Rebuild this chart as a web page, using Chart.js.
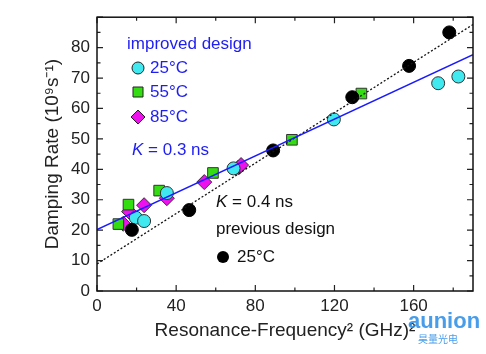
<!DOCTYPE html>
<html lang="en">
<head>
<meta charset="UTF-8">
<title>Damping Rate vs Resonance Frequency</title>
<script src="https://cdn.jsdelivr.net/npm/chart.js"></script>
<style>
  html, body { margin: 0; padding: 0; background: #fff; }
  #wrap { width: 486px; height: 354px; }
</style>
</head>
<body>
<div id="wrap"><canvas id="myChart" width="486" height="354"></canvas></div>
<script>
// improved design, 25 / 55 / 85 °C  (x = f_r^2 in GHz^2, y = damping rate in 1e9/s)
const cyan25 = [[19.6, 24.1], [23.8, 23.0], [35.3, 32.2], [69.0, 40.3], [119.7, 56.4], [172.4, 68.3], [182.6, 70.5]];
const green55 = [[10.8, 22.0], [15.9, 28.4], [31.4, 33.0], [58.6, 38.8], [98.5, 49.7], [133.6, 64.9]];
const magenta85 = [[13.3, 22.1], [16.2, 26.1], [23.8, 28.2], [35.3, 30.5], [54.2, 35.8], [71.5, 40.6], [72.8, 41.4]];
// previous design, 25 °C
const black25 = [[17.6, 20.1], [46.6, 26.6], [89.0, 46.2], [129.0, 63.7], [157.7, 74.0], [178.0, 85.0]];
// fit lines (end points)
const fitImproved = [[0, 20.2], [190, 77.7]];
const fitPrevious = [[0, 8.9], [190, 87.6]];

const xTicks = [0, 40, 80, 120, 160];
const yTicks = [0, 10, 20, 30, 40, 50, 60, 70, 80];

const toPts = a => a.map(p => ({ x: p[0], y: p[1] }));
const FONT = "'Liberation Sans', Arial, sans-serif";
const BLUE = '#1e1ef0';

const tickPlugin = {
  id: 'innerTicks',
  afterDraw(chart) {
    const { ctx, chartArea: a, scales } = chart;
    const xs = scales.x, ys = scales.y;
    ctx.save();
    ctx.strokeStyle = '#222';
    ctx.lineWidth = 1.2;
    ctx.beginPath();
    for (let v = 0; v <= 190; v += 20) {
      const px = xs.getPixelForValue(v);
      const len = v % 40 === 0 ? 6 : 3.5;
      ctx.moveTo(px, a.bottom); ctx.lineTo(px, a.bottom - len);
      ctx.moveTo(px, a.top); ctx.lineTo(px, a.top + len);
    }
    for (let v = 0; v <= 90; v += 5) {
      const py = ys.getPixelForValue(v);
      const len = v % 10 === 0 ? 6 : 3.5;
      ctx.moveTo(a.left, py); ctx.lineTo(a.left + len, py);
      ctx.moveTo(a.right, py); ctx.lineTo(a.right - len, py);
    }
    ctx.stroke();
    ctx.lineWidth = 1.5;
    ctx.strokeStyle = '#111';
    ctx.strokeRect(a.left, a.top, a.right - a.left, a.bottom - a.top);
    ctx.restore();
  }
};

function marker(ctx, type, x, y, fill) {
  ctx.save();
  ctx.fillStyle = fill;
  ctx.strokeStyle = '#222';
  ctx.lineWidth = 1;
  ctx.beginPath();
  if (type === 'circle') {
    ctx.arc(x, y, 6, 0, Math.PI * 2);
  } else if (type === 'rect') {
    ctx.rect(x - 5, y - 5, 10, 10);
  } else if (type === 'diamond') {
    ctx.moveTo(x, y - 7); ctx.lineTo(x + 7, y); ctx.lineTo(x, y + 7); ctx.lineTo(x - 7, y); ctx.closePath();
  }
  ctx.fill();
  if (fill !== '#000') ctx.stroke();
  ctx.restore();
}

function kText(ctx, x, y, rest) {
  ctx.font = 'italic 17px ' + FONT;
  ctx.fillText('K', x, y);
  const w = ctx.measureText('K').width;
  ctx.font = '17px ' + FONT;
  ctx.fillText(rest, x + w, y);
}

const notePlugin = {
  id: 'notes',
  afterDraw(chart) {
    const { ctx } = chart;
    ctx.save();
    ctx.textBaseline = 'middle';
    ctx.font = '17px ' + FONT;
    ctx.fillStyle = BLUE;
    ctx.fillText('improved design', 127, 44);
    marker(ctx, 'circle', 138, 68, '#40e8f0');
    ctx.fillStyle = BLUE;
    ctx.fillText('25°C', 150, 68);
    marker(ctx, 'rect', 138, 92, '#33dd11');
    ctx.fillStyle = BLUE;
    ctx.fillText('55°C', 150, 92);
    marker(ctx, 'diamond', 138, 117, '#ee11ee');
    ctx.fillStyle = BLUE;
    ctx.fillText('85°C', 150, 117);
    kText(ctx, 132, 150, ' = 0.3 ns');

    ctx.fillStyle = '#111';
    kText(ctx, 216, 202, ' = 0.4 ns');
    ctx.fillText('previous design', 216, 229);
    marker(ctx, 'circle', 223, 257, '#000');
    ctx.fillStyle = '#111';
    ctx.fillText('25°C', 237, 257);

    // watermark
    ctx.fillStyle = 'rgba(40,140,230,0.85)';
    ctx.font = 'bold 22px ' + FONT;
    ctx.fillText('aunion', 408, 322);
    ctx.font = '10px "Noto Sans CJK SC", sans-serif';
    ctx.fillText('昊量光电', 418, 339);
    ctx.restore();
  }
};

const ctx = document.getElementById('myChart').getContext('2d');
new Chart(ctx, {
  type: 'scatter',
  data: {
    datasets: [
      { label: 'fit improved', type: 'line', data: toPts(fitImproved), borderColor: '#1a1aff', borderWidth: 1.5, pointRadius: 0, fill: false },
      { label: 'fit previous', type: 'line', data: toPts(fitPrevious), borderColor: '#111', borderWidth: 1.3, borderDash: [2, 2], pointRadius: 0, fill: false },
      { label: 'previous 25°C', data: toPts(black25), pointStyle: 'circle', pointRadius: 6.5, backgroundColor: '#000', borderColor: '#000', borderWidth: 1 },
      { label: '25°C', data: toPts(cyan25), pointStyle: 'circle', pointRadius: 6.5, backgroundColor: '#40e8f0', borderColor: '#333', borderWidth: 1 },
      { label: '55°C', data: toPts(green55), pointStyle: 'rect', pointRadius: 7.5, backgroundColor: '#33dd11', borderColor: '#333', borderWidth: 1 },
      { label: '85°C', data: toPts(magenta85), pointStyle: 'rectRot', pointRadius: 7.5, backgroundColor: '#ee11ee', borderColor: '#333', borderWidth: 1 }
    ]
  },
  options: {
    responsive: false,
    animation: false,
    layout: { padding: { left: 0, right: 13, top: 10, bottom: 0 } },
    plugins: { legend: { display: false }, tooltip: { enabled: false } },
    scales: {
      x: {
        type: 'linear', min: 0, max: 190,
        grid: { display: false, drawTicks: false },
        border: { display: false },
        afterFit: s => { s.height = 63; },
        afterBuildTicks: s => { s.ticks = xTicks.map(v => ({ value: v })); },
        ticks: { font: { family: FONT, size: 17 }, color: '#222', padding: 5 },
        title: { display: true, text: 'Resonance-Frequency² (GHz)²', font: { family: FONT, size: 19 }, color: '#222', padding: { top: 0, bottom: 12 } }
      },
      y: {
        type: 'linear', min: 0, max: 90,
        grid: { display: false, drawTicks: false },
        border: { display: false },
        afterFit: s => { s.width = 97; },
        afterBuildTicks: s => { s.ticks = yTicks.map(v => ({ value: v })); },
        ticks: { font: { family: FONT, size: 17 }, color: '#222', padding: 7 },
        title: { display: true, text: 'Damping Rate (10⁹s⁻¹)', font: { family: FONT, size: 19 }, color: '#222', padding: { top: 41, bottom: 0 } }
      }
    }
  },
  plugins: [tickPlugin, notePlugin]
});
</script>
</body>
</html>
